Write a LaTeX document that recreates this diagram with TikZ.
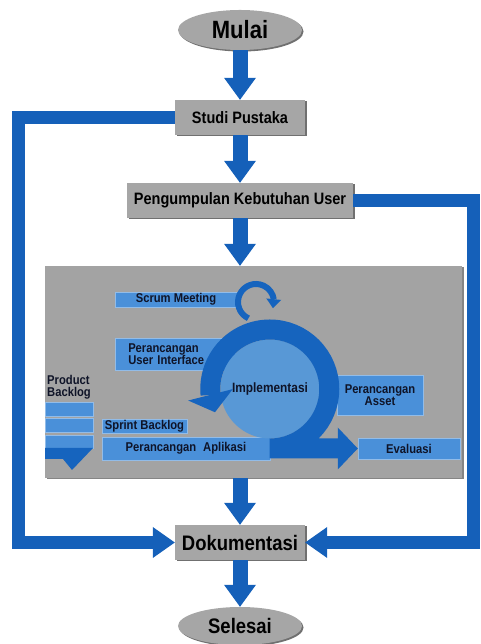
\documentclass[tikz,border=0pt]{standalone}
\usepackage{fontspec}
\setmainfont{Liberation Sans}[FakeStretch=0.88]
\usetikzlibrary{arrows.meta,shapes.geometric,shadows,bending}
\definecolor{arrowblue}{RGB}{21,96,185}
\definecolor{ringblue}{RGB}{22,100,190}
\definecolor{lblue}{RGB}{74,144,217}
\definecolor{cblue}{RGB}{88,152,214}
\definecolor{boxgray}{RGB}{166,166,166}
\definecolor{biggray}{RGB}{163,163,163}
\definecolor{txt}{RGB}{15,20,40}
\begin{document}
\begin{tikzpicture}[x=1pt,y=1pt,
  term/.style={ellipse, fill=boxgray, minimum width=124pt, minimum height=40pt, inner sep=0pt,
    font=\bfseries\fontsize{25}{25}\selectfont,
    drop shadow={shadow xshift=1.5pt, shadow yshift=-1.5pt, fill=black!70, opacity=0.8}},
  gbox/.style={rectangle, fill=boxgray, minimum height=35pt, inner sep=0pt,
    font=\bfseries\fontsize{16.5}{18}\selectfont,
    drop shadow={shadow xshift=1.5pt, shadow yshift=-1.5pt, fill=black!70, opacity=0.8}},
  bigbox/.style={rectangle, fill=biggray, minimum width=417pt, minimum height=212pt, inner sep=0pt,
    drop shadow={shadow xshift=1.5pt, shadow yshift=-1.5pt, fill=black!60, opacity=0.8}},
  bbox/.style={rectangle, fill=lblue, draw=lblue!60!white, line width=0.5pt, inner sep=0pt, text=txt,
    font=\bfseries\fontsize{12.75}{12}\selectfont,
    drop shadow={shadow xshift=1.2pt, shadow yshift=-1.2pt, fill=ringblue!45!black, opacity=0.9}},
  flow/.style={draw=arrowblue, line width=15pt, -{Triangle[length=22pt,width=32pt,line width=0pt]}},
  loopl/.style={draw=arrowblue, line width=13pt, line join=miter, -{Triangle[length=22pt,width=31pt,line width=0pt]}},
  lbl/.style={inner sep=0pt, text=txt, font=\bfseries\fontsize{12.75}{12}\selectfont}
]
\useasboundingbox (0,0) rectangle (480,644);

% main flow nodes
\node[term] (mulai) at (240,614) {Mulai};
\node[gbox, minimum width=130pt] (studi) at (240,526.5) {Studi Pustaka};
\node[gbox, minimum width=226pt] (peng) at (240,443.5) {Pengumpulan Kebutuhan User};
\node[bigbox] (big) at (253.5,272) {};
\node[gbox, minimum width=130pt, font=\bfseries\fontsize{21}{21}\selectfont] (dok) at (240,101.5) {Dokumentasi};
\node[term, minimum height=38pt, font=\bfseries\fontsize{21}{21}\selectfont] (sel) at (240,18) {Selesai};

% vertical arrows
\draw[flow] (mulai.south) -- (studi.north);
\draw[flow] (studi.south) -- (peng.north);
\draw[flow] (peng.south) -- (peng.south |- big.north);
\draw[flow] (big.south -| dok.north) -- (dok.north);
\draw[flow] (dok.south) -- (sel.north);

% side loops
\draw[loopl] (studi.west) -- ++(-156.5,0) |- (dok.west);
\draw[loopl] (peng.east) -- ++(120.5,0) |- (dok.east);

% inner elements
\node[bbox, minimum width=122pt, minimum height=15pt] (scrum) at (176,344.5) {Scrum Meeting};
\node[bbox, anchor=west, minimum height=32pt, inner xsep=13pt, text width=94pt, align=left] (ui) at (115,290) {Perancangan\\User Interface};

\node[lbl, anchor=north west, align=left] (pbt) at (47,269) {Product\\Backlog};
\node[bbox, minimum width=48pt, minimum height=14pt] (pb1) at (69,235) {};
\node[bbox, minimum width=48pt, minimum height=14pt] (pb2) at (69,219) {};
\node[bbox, minimum width=48pt, minimum height=13pt] (pb3) at (69,202.5) {};
\fill[ringblue] (45,196) -- (93,196) -- (72,174) -- (63,185) -- (45,185) -- cycle;

\node[bbox, minimum width=85pt, minimum height=14pt] (sprint) at (144.5,218) {Sprint Backlog};
\node[bbox, minimum width=168pt, minimum height=23pt] (apl) at (186,195.5) {Perancangan\hspace{0.55em}Aplikasi};
\node[bbox, minimum width=86pt, minimum height=40pt, align=center] (asset) at (380,249) {Perancangan\\Asset};
\node[bbox, minimum width=102pt, minimum height=21pt] (eval) at (409,195.5) {Evaluasi};

% sprint cycle
\node[circle, fill=cblue, minimum size=99pt, inner sep=0pt, text=txt,
  font=\bfseries\fontsize{13.5}{13.5}\selectfont] (impl) at (270,255) {Implementasi};
\draw[ringblue, line width=20pt,
  {Triangle[length=20pt,width=42pt,line width=0pt]}-{Triangle[length=18pt,width=46pt,line width=0pt]}]
  (eval.west) -- ++(-88,0) arc[start angle=-90, end angle=203, radius=59.5];
\coordinate (lc) at (256,342);
\draw[ringblue, line width=6pt, -{Triangle[length=9pt,width=15pt,line width=0pt]}]
  (lc) ++(245:18) arc[start angle=245, end angle=-20, radius=18];
\end{tikzpicture}
\end{document}
